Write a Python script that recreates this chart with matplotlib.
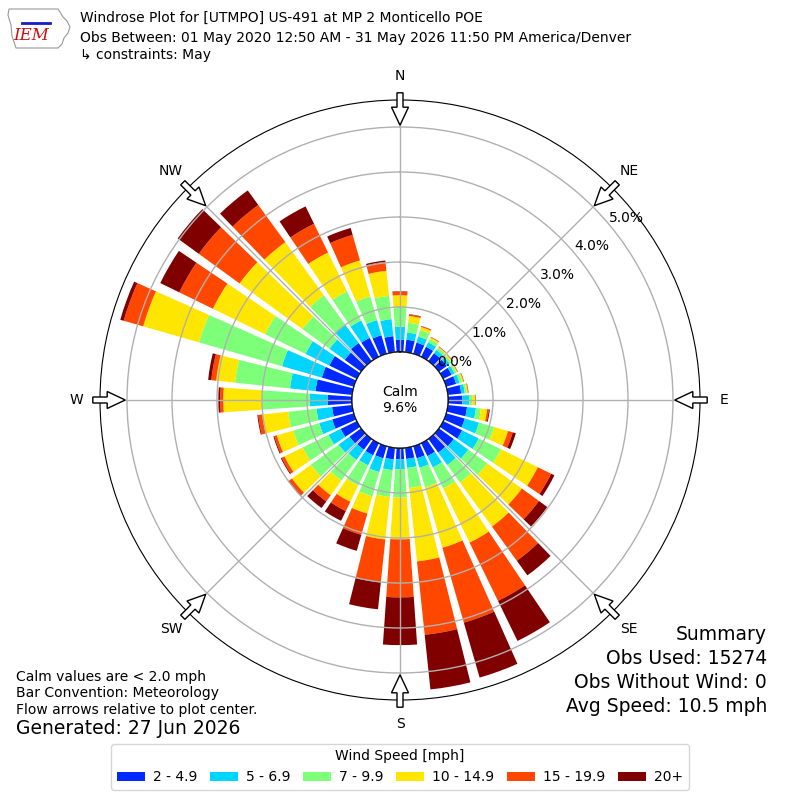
import numpy as np
import matplotlib
matplotlib.use("Agg")
import matplotlib.pyplot as plt
from matplotlib.patches import Circle, FancyArrow, Polygon
from matplotlib.lines import Line2D

# ---------------- data ----------------
directions = list(range(0, 360, 10))  # degrees, meteorological convention
speed_labels = ["2 - 4.9", "5 - 6.9", "7 - 9.9", "10 - 14.9", "15 - 19.9", "20+"]

# cumulative percent (frequency) reached at the top of each speed bin
cum_2_4_9 = [0.27, 0.28, 0.26, 0.25, 0.22, 0.22, 0.21, 0.23, 0.30, 0.32, 0.43, 0.43,
             0.47, 0.41, 0.38, 0.32, 0.28, 0.25, 0.25, 0.26, 0.28, 0.30, 0.30, 0.32,
             0.40, 0.50, 0.45, 0.54, 0.82, 0.74, 0.68, 0.45, 0.50, 0.47, 0.43, 0.36]
cum_5_6_9 = [0.56, 0.44, 0.40, 0.36, 0.31, 0.30, 0.28, 0.31, 0.38, 0.47, 0.63, 0.76,
             0.88, 0.81, 0.72, 0.60, 0.50, 0.45, 0.47, 0.50, 0.60, 0.55, 0.58, 0.62,
             0.70, 0.80, 0.80, 0.94, 1.39, 1.66, 1.27, 0.87, 1.00, 0.90, 0.78, 0.74]
cum_7_9_9 = [1.00, 0.66, 0.55, 0.44, 0.37, 0.35, 0.33, 0.37, 0.42, 0.54, 0.74, 1.11,
             1.43, 1.33, 1.20, 1.12, 0.95, 0.90, 1.10, 1.10, 1.16, 1.05, 1.15, 1.38,
             1.34, 1.40, 1.43, 2.00, 2.62, 3.58, 2.27, 1.61, 1.81, 1.62, 1.33, 1.26]
cum_10_14_9 = [1.26, 0.81, 0.62, 0.48, 0.39, 0.38, 0.35, 0.40, 0.45, 0.60, 0.88, 1.43,
               2.34, 2.28, 2.41, 2.46, 2.35, 2.54, 2.03, 2.05, 1.56, 1.45, 1.55, 1.90,
               1.79, 1.78, 2.01, 2.86, 3.04, 4.87, 3.56, 3.34, 3.27, 2.58, 2.16, 1.82]
cum_15_19_9 = [1.34, 0.84, 0.64, 0.49, 0.40, 0.39, 0.36, 0.41, 0.46, 0.61, 0.92, 1.54,
               2.67, 2.75, 3.35, 3.90, 4.08, 4.18, 3.32, 3.01, 2.05, 1.68, 1.72, 1.98,
               1.86, 1.84, 2.10, 2.93, 3.15, 5.32, 4.39, 4.46, 4.29, 3.29, 2.75, 2.02]
cum_20_plus = [1.35, 0.85, 0.645, 0.495, 0.405, 0.395, 0.365, 0.415, 0.465, 0.615, 0.94, 1.61,
               2.75, 2.98, 3.75, 4.89, 5.35, 5.40, 4.38, 3.61, 2.42, 1.92, 1.90, 2.00,
               1.88, 1.86, 2.12, 2.97, 3.22, 5.40, 4.86, 5.04, 4.69, 3.72, 2.91, 2.05]

calm_pct = 9.6
rticks = [0, 1, 2, 3, 4, 5]
compass_labels = ["N", "NE", "E", "SE", "S", "SW", "W", "NW"]
compass_angles = [0, 45, 90, 135, 180, 225, 270, 315]

title_lines = [
    "Windrose Plot for [UTMPO] US-491 at MP 2 Monticello POE",
    "Obs Between: 01 May 2020 12:50 AM - 31 May 2026 11:50 PM America/Denver",
    "\u21b3 constraints: May",
]
left_notes = ["Calm values are < 2.0 mph", "Bar Convention: Meteorology",
              "Flow arrows relative to plot center."]
generated = "Generated: 27 Jun 2026"
summary_lines = ["Summary", "Obs Used: 15274", "Obs Without Wind: 0", "Avg Speed: 10.5 mph"]

# ---------------- figure ----------------
plt.rcParams['font.family'] = ['DejaVu Sans']
fig = plt.figure(figsize=(8, 8), dpi=100)
ax = fig.add_axes([0.125, 0.125, 0.75, 0.75], projection="polar")
ax.set_theta_zero_location("N")
ax.set_theta_direction(-1)

cmap = plt.get_cmap("jet")
colors = [cmap(v) for v in np.linspace(0, 1, 7)[1:]]

theta = np.deg2rad(directions)
width = np.deg2rad(8.0)
cums = [cum_2_4_9, cum_5_6_9, cum_7_9_9, cum_10_14_9, cum_15_19_9, cum_20_plus]
prev = np.zeros(len(directions))
for lab, cum, col in zip(speed_labels, cums, colors):
    cum = np.asarray(cum, dtype=float)
    ax.bar(theta, cum - prev, width=width, bottom=prev, color=col,
           edgecolor="none", label=lab, align="center")
    prev = cum

ax.set_ylim(0, 5.6)
ax.set_rorigin(-1.067)
ax.set_yticks(rticks)
ax.set_yticklabels([f"{v:.1f}%" for v in rticks], fontsize=10)
ax.set_rlabel_position(50)
ax.set_xticks(np.deg2rad(compass_angles))
ax.set_xticklabels([])
ax.grid(True, color="#b0b0b0", lw=1)
ax.spines["polar"].set_color("black")

# calm circle
ax.add_patch(Circle((0.5, 0.5), 48.0 / 600, transform=ax.transAxes,
                    facecolor="white", edgecolor="black", lw=1, zorder=5))
ax.text(0.5, 0.5, f"Calm\n{calm_pct:.1f}%", transform=ax.transAxes,
        ha="center", va="center", fontsize=10, zorder=6)

# compass labels and flow arrows
for lab, ang in zip(compass_labels, compass_angles):
    a = np.deg2rad(ang)
    s, c = np.sin(a), np.cos(a)
    ax.text(0.5 + 0.54 * s, 0.5 + 0.54 * c, lab, transform=ax.transAxes,
            ha="center", va="center", fontsize=10)
    r0, r1 = 0.512, 0.458
    ax.add_patch(FancyArrow(0.5 + r0 * s, 0.5 + r0 * c, (r1 - r0) * s, (r1 - r0) * c,
                            width=6 / 600, head_width=17 / 600, head_length=18 / 600,
                            length_includes_head=True, facecolor="white",
                            edgecolor="black", lw=1, transform=ax.transAxes,
                            clip_on=False, zorder=7))

# titles
ys = [18, 38, 55]
for txt, y in zip(title_lines, ys):
    fig.text(80 / 800, 1 - y / 800, txt, ha="left", va="center", fontsize=10)

# logo (approximate)
pts = [(9, 9), (58, 9), (60, 12), (63, 17), (67, 21), (70, 27), (68, 33), (64, 38),
       (62, 44), (58, 48), (16, 48), (14, 42), (12, 36), (11, 25), (8, 15)]
fig.add_artist(Polygon([(x / 800, 1 - y / 800) for x, y in pts], closed=True,
                       fill=False, edgecolor="#999999", lw=0.8, transform=fig.transFigure))
fig.add_artist(Line2D([22 / 800, 50 / 800], [1 - 23 / 800, 1 - 23 / 800],
                      color="#1a1acc", lw=2, transform=fig.transFigure))
fig.text(31 / 800, 1 - 36 / 800, "IEM", color="#cc1111", fontsize=12,
         family="DejaVu Serif", style="italic", ha="center", va="center")

# notes
for txt, y in zip(left_notes, [677, 693, 710]):
    fig.text(16 / 800, 1 - y / 800, txt, ha="left", va="center", fontsize=10)
fig.text(16 / 800, 1 - 729 / 800, generated, ha="left", va="center", fontsize=13.5)

for txt, y in zip(summary_lines, [635, 658, 682, 706]):
    fig.text(767 / 800, 1 - y / 800, txt, ha="right", va="center", fontsize=13.5)

fig.legend(loc="lower center", bbox_to_anchor=(0.5, 0.004), ncol=6,
           title="Wind Speed [mph]", fontsize=10, title_fontsize=10,
           columnspacing=0.9, handletextpad=0.6)

fig.savefig("out.png", dpi=100)
